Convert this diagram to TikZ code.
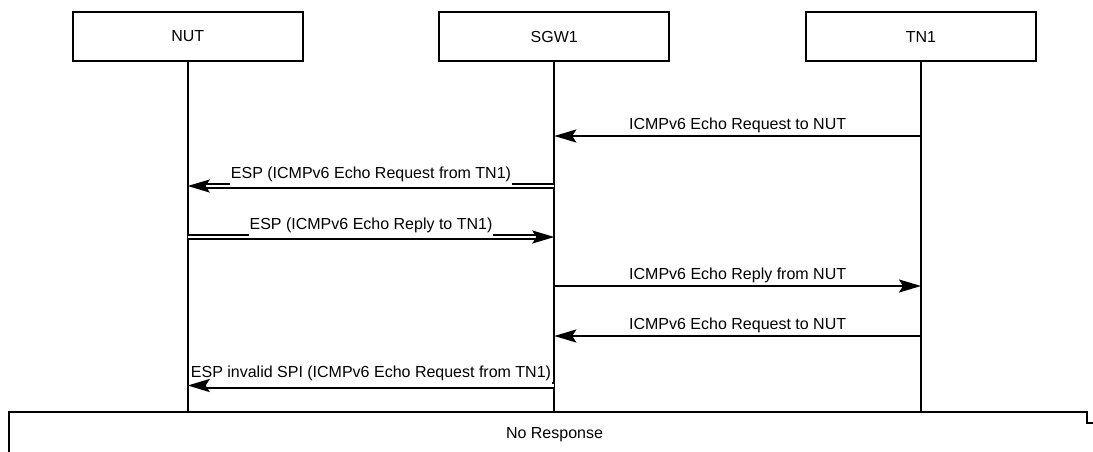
\documentclass[tikz,border=0pt]{standalone}
\usepackage{fontspec}
\setmainfont{Liberation Sans}
\usetikzlibrary{arrows.meta,calc}
\begin{document}
\begin{tikzpicture}[x=1pt,y=-1pt,
  font=\fontsize{16}{19}\selectfont,
  actor/.style={draw,line width=2pt,minimum width=230pt,minimum height=49pt,inner sep=0pt,fill=white},
  life/.style={line width=2pt},
  tipstyle/.style={-{Stealth[length=22pt,width=13pt,inset=4pt]}},
  msg/.style={line width=2pt,tipstyle},
  dbl/.style={double,double distance=2.6pt,line width=1.9pt,shorten >=12pt},
  slbl/.style={midway,anchor=base,yshift=7pt,inner sep=0pt},
  dlbl/.style={midway,anchor=south,fill=white,inner ysep=0pt,inner xsep=1pt,text depth=7pt},
  notebox/.style={line width=2pt}
]
\clip (0,0) rectangle (1093,451);
\fill[white] (0,0) rectangle (1093,451);

% actors
\node[actor] (nut) at (187.7,36.5) {NUT};
\node[actor] (sgw) at (554.3,36.5) {SGW1};
\node[actor] (tn)  at (921,36.5) {TN1};

% lifelines
\coordinate (nutE) at (187.7,412);
\coordinate (sgwE) at (554.3,412);
\coordinate (tnE)  at (921,412);
\draw[life] (nut.south) -- (nutE);
\draw[life] (sgw.south) -- (sgwE);
\draw[life] (tn.south) -- (tnE);

% message points
\coordinate (t1) at (921,136);   \coordinate (s1) at (554.3,136);
\coordinate (s2) at (554.3,186); \coordinate (n2) at (187.7,186);
\coordinate (n3) at (187.7,237); \coordinate (s3) at (554.3,237);
\coordinate (s4) at (554.3,286); \coordinate (t4) at (921,286);
\coordinate (t5) at (921,336);   \coordinate (s5) at (554.3,336);
\coordinate (s6) at (554.3,385.5); \coordinate (n6) at (187.7,385.5);

% messages
\draw[msg] (t1) -- (s1) node[slbl] {ICMPv6 Echo Request to NUT};

\draw[dbl] (s2) -- (n2) node[dlbl] {ESP (ICMPv6 Echo Request from TN1)};
\draw[msg] ($(n2)!16pt!(s2)$) -- (n2);

\draw[dbl] (n3) -- (s3) node[dlbl] {ESP (ICMPv6 Echo Reply to TN1)};
\draw[msg] ($(s3)!16pt!(n3)$) -- (s3);

\draw[msg] (s4) -- (t4) node[slbl] {ICMPv6 Echo Reply from NUT};

\draw[msg] (t5) -- (s5) node[slbl] {ICMPv6 Echo Request to NUT};

\draw[dbl] (s6) -- (n6) node[dlbl] {ESP invalid SPI (ICMPv6 Echo Request from TN1)};
\draw[msg] ($(n6)!16pt!(s6)$) -- (n6);

% bottom note
\draw[notebox] (9,470) -- (9,412) -- (1087,412) -- (1087,423) -- (1110,423);
\node (nr) at (554.5,435) {No Response};
\end{tikzpicture}
\end{document}
